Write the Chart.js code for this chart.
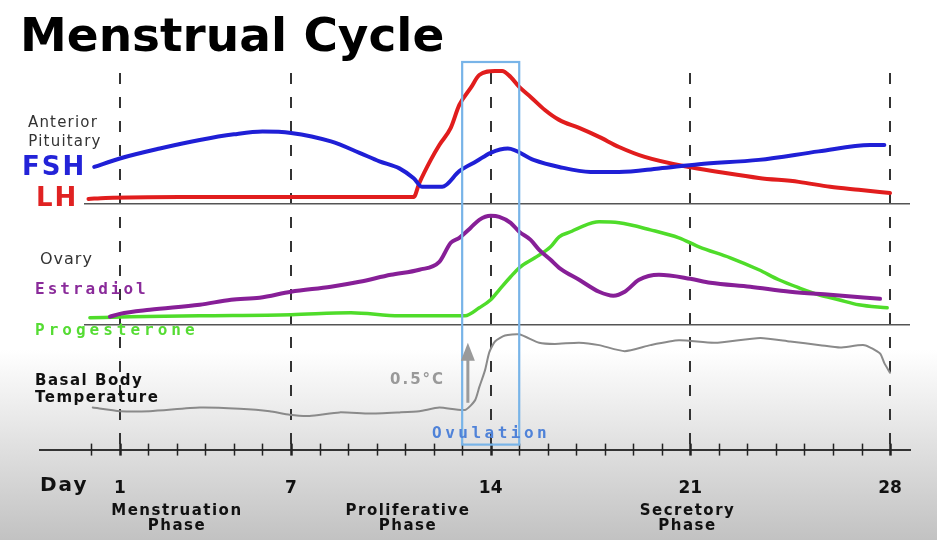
<!DOCTYPE html>
<html>
<head>
<meta charset="utf-8">
<title>Menstrual Cycle</title>
<script src="https://cdn.jsdelivr.net/npm/chart.js@4.4.1/dist/chart.umd.min.js"></script>
<style>
  html, body { margin: 0; padding: 0; background: #fff; }
  #cycle { display: block; }
</style>
</head>
<body>
<canvas id="cycle" width="937" height="540"></canvas>
<script>
// values (x = day of cycle)
const fshDays = [0.1, 1, 2.4, 3.8, 5, 6, 7, 8.4, 9.4, 10.1, 10.8, 11.3, 11.6, 12.3, 12.9, 13.5, 14, 14.6, 15.5, 16.4, 17.5, 18.5, 19.9, 21.3, 23.4, 25.5, 27.3, 27.8];
const fshLevels = [26, 32, 39, 45, 49, 51, 50, 44, 36, 30, 25, 18, 12, 12, 23, 30, 36, 39, 31, 26, 22.5, 22.5, 25, 28, 31, 37, 41.5, 41.5];

const lhDays = [-0.1, 0.5, 3.1, 7.3, 11.3, 11.5, 11.9, 12.2, 12.6, 12.9, 13.3, 13.6, 14.15, 14.4, 14.7, 15, 15.4, 15.9, 16.4, 17.1, 17.8, 18.5, 19.4, 20.9, 22, 23.4, 24.8, 25.9, 26.9, 28];
const lhLevels = [3.5, 4.2, 4.9, 4.9, 4.9, 14.8, 31, 41.5, 53.5, 69.7, 81.7, 90.8, 93.7, 93.7, 89.4, 82.4, 75.4, 66.2, 59.2, 53.5, 47.2, 40.1, 33.1, 26.1, 22.5, 18.3, 15.5, 12, 9.9, 7.7];

const estradiolDays = [0.65, 1, 2.05, 3.8, 4.9, 5.9, 7, 8.4, 9.4, 10.5, 11.5, 12.2, 12.6, 12.9, 13.3, 13.6, 14, 14.3, 14.7, 15, 15.4, 15.7, 16.1, 16.4, 17.1, 17.8, 18.3, 18.7, 19.2, 19.9, 21, 21.7, 23.1, 24.5, 25.9, 27.65];
const estradiolLevels = [6.6, 9, 12.4, 16.5, 20.7, 22.3, 27.3, 31.4, 35.5, 41.3, 45.5, 52, 67.8, 71.9, 80.2, 86.8, 90.1, 89.3, 84.3, 76.9, 70.2, 62, 53.7, 47.1, 37.2, 27.3, 24, 27.3, 37.2, 41.3, 38, 34.7, 31.4, 27.3, 24.8, 21.5];

const progesteroneDays = [-0.05, 1.35, 3.8, 7, 9.1, 10.8, 13.1, 13.6, 14, 14.3, 14.7, 15, 15.55, 16.1, 16.4, 16.8, 17.1, 17.8, 18.5, 19.6, 20.6, 21.3, 22.4, 23.4, 24.1, 24.8, 25.5, 26.2, 26.9, 27.9];
const progesteroneLevels = [5.8, 6.6, 7.4, 8.3, 9.9, 7.4, 7.4, 14, 20.7, 28.9, 39.7, 47.1, 55.4, 64.5, 72.7, 76.9, 80.2, 85.1, 84.3, 78.5, 71.9, 64.5, 55.4, 45.5, 37.2, 30.6, 24.8, 20.7, 16.5, 14];

const bbtDays = [0.05, 1, 2.05, 3.8, 5.2, 6.25, 6.95, 7.65, 8.7, 9.75, 10.8, 11.5, 12.2, 13.1, 13.45, 13.6, 13.8, 13.95, 14.15, 14.5, 15, 15.7, 16.25, 17.1, 17.8, 18.7, 19.6, 20.6, 21.85, 23.45, 24.5, 25.55, 26.25, 27.1, 27.65, 27.8, 28];
const bbtTemps = [36.41, 36.38, 36.38, 36.41, 36.40, 36.38, 36.35, 36.34, 36.37, 36.36, 36.37, 36.38, 36.41, 36.39, 36.47, 36.58, 36.72, 36.87, 36.96, 37.01, 37.02, 36.95, 36.94, 36.95, 36.93, 36.88, 36.93, 36.97, 36.95, 36.99, 36.96, 36.93, 36.91, 36.93, 36.86, 36.78, 36.70];

const labeledDays = [1, 7, 14, 21, 28];   // tick labels + dashed lines
const ovulationWindow = [13, 15];
const phases = [
    { name: 'Menstruation', day: 3.0 },
    { name: 'Proliferative', day: 11.1 },
    { name: 'Secretory', day: 20.9 }
];

const toPoints = (xs, ys) => xs.map((d, i) => ({ x: d, y: ys[i] }));

function drawText(ctx, text, x, y, font, color, spacing, align, baseline) {
    ctx.font = font;
    ctx.fillStyle = color;
    ctx.textAlign = align || 'left';
    ctx.textBaseline = baseline || 'middle';
    ctx.letterSpacing = (spacing || 0) + 'px';
    ctx.fillText(text, x, y);
}

const cycleDecor = {
    id: 'cycleDecor',
    beforeDraw(chart) {
        const { ctx, width, height } = chart;
        ctx.save();
        ctx.fillStyle = '#ffffff';
        ctx.fillRect(0, 0, width, height);
        const g = ctx.createLinearGradient(0, 350, 0, height);
        g.addColorStop(0, '#ffffff');
        g.addColorStop(1, '#c2c2c2');
        ctx.fillStyle = g;
        ctx.fillRect(0, 350, width, height - 350);
        ctx.restore();
    },
    beforeDatasetsDraw(chart) {
        const { ctx, chartArea, scales } = chart;
        const x = scales.x;
        ctx.save();
        // dashed day markers
        ctx.strokeStyle = '#333';
        ctx.lineWidth = 2;
        ctx.setLineDash([11, 13]);
        labeledDays.forEach(d => {
            const px = Math.round(x.getPixelForValue(d));
            ctx.beginPath();
            ctx.moveTo(px, chartArea.top + 11);
            ctx.lineTo(px, chartArea.bottom);
            ctx.stroke();
        });
        ctx.setLineDash([]);
        // panel separators
        ctx.strokeStyle = '#555';
        ctx.lineWidth = 1.5;
        [scales.yHorm.bottom, scales.yOvary.bottom].forEach(py => {
            ctx.beginPath();
            ctx.moveTo(84, py);
            ctx.lineTo(chartArea.right, py);
            ctx.stroke();
        });
        // day ticks on the axis
        ctx.strokeStyle = '#222';
        for (let d = 0; d <= 28; d++) {
            const px = Math.round(x.getPixelForValue(d)) + 0.5;
            ctx.lineWidth = labeledDays.includes(d) ? 2.5 : 1.5;
            ctx.beginPath();
            ctx.moveTo(px, chartArea.bottom - 6);
            ctx.lineTo(px, chartArea.bottom + 6);
            ctx.stroke();
        }
        ctx.restore();
    },
    afterDatasetsDraw(chart) {
        const { ctx, chartArea, scales } = chart;
        const x = scales.x;
        const yT = scales.yTemp;
        ctx.save();
        // ovulation box
        const x0 = x.getPixelForValue(ovulationWindow[0]);
        const x1 = x.getPixelForValue(ovulationWindow[1]);
        ctx.strokeStyle = '#78b4e8';
        ctx.lineWidth = 2.2;
        ctx.strokeRect(x0, chartArea.top, x1 - x0, chartArea.bottom - 5 - chartArea.top);

        // 0.5 C arrow
        const ax = x.getPixelForValue(13.2);
        const yBase = yT.getPixelForValue(36.45);
        const yTip = yT.getPixelForValue(36.95);
        ctx.strokeStyle = '#9a9a9a';
        ctx.fillStyle = '#9a9a9a';
        ctx.lineWidth = 3;
        ctx.beginPath();
        ctx.moveTo(ax, yBase);
        ctx.lineTo(ax, yTip + 15);
        ctx.stroke();
        ctx.beginPath();
        ctx.moveTo(ax, yTip);
        ctx.lineTo(ax - 7, yTip + 18);
        ctx.lineTo(ax + 7, yTip + 18);
        ctx.closePath();
        ctx.fill();

        // title and labels
        drawText(ctx, 'Menstrual Cycle', 20, 51, 'bold 47px "DejaVu Sans"', '#000', 0, 'left', 'alphabetic');
        drawText(ctx, 'Anterior', 63, 123, '15px "DejaVu Sans"', '#333', 1.2, 'center');
        drawText(ctx, 'Pituitary', 65, 142, '15px "DejaVu Sans"', '#333', 1.2, 'center');
        drawText(ctx, 'FSH', 22, 168, 'bold 26px "DejaVu Sans"', '#2323d8', 2);
        drawText(ctx, 'LH', 36, 199, 'bold 26px "DejaVu Sans"', '#e02222', 2);
        drawText(ctx, 'Ovary', 40, 260, '16px "DejaVu Sans"', '#333', 1);
        drawText(ctx, 'Estradiol', 35, 290, 'bold 16px "DejaVu Sans Mono"', '#8a2b9a', 3);
        drawText(ctx, 'Progesterone', 35, 331, 'bold 16px "DejaVu Sans Mono"', '#55dc33', 4);
        drawText(ctx, 'Basal Body', 35, 381, 'bold 15px "DejaVu Sans"', '#111', 1.5);
        drawText(ctx, 'Temperature', 35, 398, 'bold 15px "DejaVu Sans"', '#111', 1.5);
        drawText(ctx, '0.5°C', 390, 380, 'bold 15px "DejaVu Sans"', '#999', 2);
        drawText(ctx, 'Ovulation', 432, 434, 'bold 16px "DejaVu Sans Mono"', '#4f82d8', 3.5);
        drawText(ctx, 'Day', 40, 486, 'bold 20px "DejaVu Sans"', '#111', 2);
        phases.forEach(p => {
            const px = x.getPixelForValue(p.day);
            drawText(ctx, p.name, px, 511, 'bold 15px "DejaVu Sans"', '#111', 1.5, 'center');
            drawText(ctx, 'Phase', px, 526, 'bold 15px "DejaVu Sans"', '#111', 1.5, 'center');
        });
        ctx.restore();
    }
};

const lineStyle = {
    pointRadius: 0,
    fill: false,
    cubicInterpolationMode: 'monotone',
    borderCapStyle: 'round',
    borderJoinStyle: 'round'
};

new Chart(document.getElementById('cycle'), {
    type: 'line',
    data: {
        datasets: [
            { ...lineStyle, label: 'FSH', data: toPoints(fshDays, fshLevels), borderColor: '#1f1fd6', borderWidth: 4, yAxisID: 'yHorm' },
            { ...lineStyle, label: 'LH', data: toPoints(lhDays, lhLevels), borderColor: '#e11d1d', borderWidth: 4, yAxisID: 'yHorm' },
            { ...lineStyle, label: 'Estradiol', data: toPoints(estradiolDays, estradiolLevels), borderColor: '#871f97', borderWidth: 4, yAxisID: 'yOvary' },
            { ...lineStyle, label: 'Progesterone', data: toPoints(progesteroneDays, progesteroneLevels), borderColor: '#4fdc2a', borderWidth: 3.5, yAxisID: 'yOvary' },
            { ...lineStyle, label: 'Basal Body Temperature', data: toPoints(bbtDays, bbtTemps), borderColor: '#8a8a8a', borderWidth: 2, tension: 0.2, cubicInterpolationMode: 'default', yAxisID: 'yTemp' }
        ]
    },
    options: {
        responsive: false,
        animation: false,
        devicePixelRatio: 1,
        layout: { padding: { top: 62, left: 40, right: 27, bottom: 12 } },
        plugins: {
            legend: { display: false },
            tooltip: { enabled: false }
        },
        scales: {
            x: {
                type: 'linear',
                min: -1.8,
                max: 28.7,
                afterBuildTicks: (scale) => { scale.ticks = labeledDays.map(v => ({ value: v })); },
                ticks: {
                    autoSkip: false,
                    maxRotation: 0,
                    padding: 29,
                    color: '#111',
                    font: { family: 'DejaVu Sans', size: 17, weight: 'bold' }
                },
                grid: { display: false, drawTicks: false },
                border: { display: true, color: '#333', width: 2 }
            },
            yHorm: { type: 'linear', display: false, min: 0, max: 100, stack: 'panels', stackWeight: 142, weight: 3 },
            yOvary: { type: 'linear', display: false, min: 0, max: 100, stack: 'panels', stackWeight: 121, weight: 2 },
            yTemp: { type: 'linear', display: false, min: 36.06, max: 37.10, stack: 'panels', stackWeight: 125, weight: 1 }
        }
    },
    plugins: [cycleDecor]
});
</script>
</body>
</html>
